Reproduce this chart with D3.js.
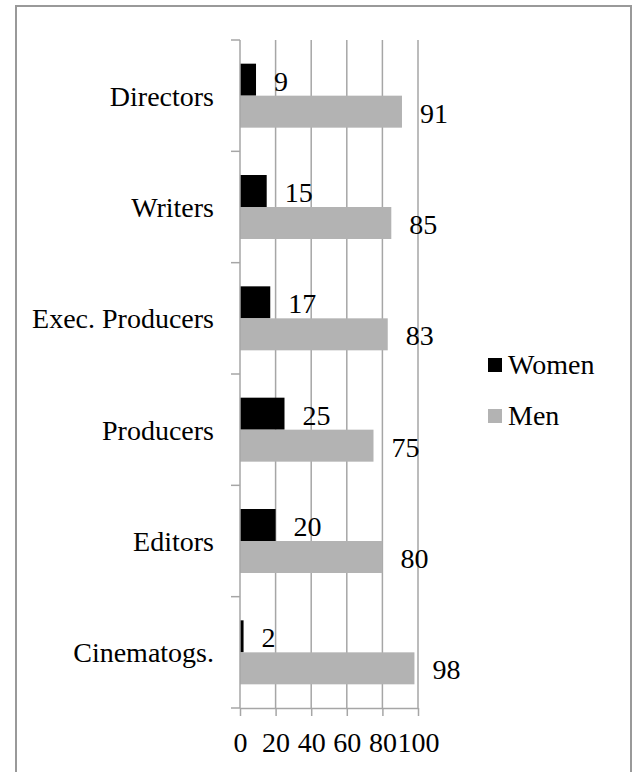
<!DOCTYPE html>
<html>
<head>
<meta charset="utf-8">
<script src="https://cdn.jsdelivr.net/npm/d3@7"></script>
<style>
  html, body { margin: 0; padding: 0; background: #fff; }
  svg { display: block; }
  text { font-family: "Liberation Serif", "Times New Roman", serif; fill: #000; }
</style>
</head>
<body>
<script>
const categories = ["Directors", "Writers", "Exec. Producers", "Producers", "Editors", "Cinematogs."];
const seriesNames = ["Women", "Men"];
const women = [9, 15, 17, 25, 20, 2];
const men = [91, 85, 83, 75, 80, 98];
const xTicks = [0, 20, 40, 60, 80, 100];
const colors = { Women: "#000000", Men: "#b3b3b3" };

const W = 635, H = 772, FS = 28;
const svg = d3.select("body").append("svg").attr("width", W).attr("height", H);

// outer border
svg.append("rect").attr("x", 16).attr("y", 6).attr("width", 615).attr("height", 820)
  .attr("fill", "none").attr("stroke", "#999").attr("stroke-width", 2);

const x = d3.scaleLinear().domain([0, 100]).range([240, 418]);
const y = d3.scaleBand().domain(categories).range([40, 708]).padding(0);
const y1 = d3.scaleBand().domain(seriesNames).range([0, y.bandwidth()]).paddingInner(0).paddingOuter(0.74);

const gridColor = "#a6a6a6";

// gridlines
svg.append("g").selectAll("line").data(xTicks.filter(d => d > 0)).join("line")
  .attr("x1", d => x(d)).attr("x2", d => x(d))
  .attr("y1", y.range()[0]).attr("y2", y.range()[1])
  .attr("stroke", gridColor).attr("stroke-width", 1.5);

// bars
const data = [];
categories.forEach((c, i) => {
  data.push({ cat: c, s: "Women", v: women[i] });
  data.push({ cat: c, s: "Men", v: men[i] });
});
svg.append("g").selectAll("rect").data(data).join("rect")
  .attr("x", x(0))
  .attr("y", d => y(d.cat) + y1(d.s))
  .attr("width", d => x(d.v) - x(0))
  .attr("height", y1.bandwidth())
  .attr("fill", d => colors[d.s]);

// value labels
svg.append("g").selectAll("text").data(data).join("text")
  .attr("x", d => x(d.v) + 18)
  .attr("y", d => y(d.cat) + y1(d.s) + y1.bandwidth() / 2 + 11)
  .attr("font-size", FS)
  .text(d => d.v);

// x axis
const xAxis = svg.append("g").attr("transform", `translate(0,${y.range()[1]})`)
  .call(d3.axisBottom(x).tickValues(xTicks).tickSize(8).tickSizeOuter(0).tickPadding(16));
xAxis.selectAll("path, line").attr("stroke", gridColor).attr("stroke-width", 1.5);
xAxis.selectAll("text").attr("font-size", FS).attr("font-family", "Liberation Serif, serif");

// y axis line
svg.append("line").attr("x1", x(0)).attr("x2", x(0))
  .attr("y1", y.range()[0]).attr("y2", y.range()[1])
  .attr("stroke", gridColor).attr("stroke-width", 1.5);

// category boundary ticks
const bounds = categories.map(c => y(c)).concat([y.range()[1]]);
svg.append("g").selectAll("line").data(bounds).join("line")
  .attr("x1", x(0) - 9).attr("x2", x(0))
  .attr("y1", d => d).attr("y2", d => d)
  .attr("stroke", gridColor).attr("stroke-width", 1.5);

// category labels
const yAxis = svg.append("g").attr("transform", `translate(${x(0)},0)`)
  .call(d3.axisLeft(y).tickSize(0).tickPadding(26));
yAxis.select(".domain").remove();
yAxis.selectAll("text").attr("font-size", FS).attr("font-family", "Liberation Serif, serif")
  .attr("dy", "0.36em");

// legend
const legend = svg.append("g");
seriesNames.forEach((s, i) => {
  const yy = 358 + i * 51;
  legend.append("rect").attr("x", 488).attr("y", yy).attr("width", 14).attr("height", 14).attr("fill", colors[s]);
  legend.append("text").attr("x", 508).attr("y", yy + 16).attr("font-size", FS).text(s);
});
</script>
</body>
</html>
